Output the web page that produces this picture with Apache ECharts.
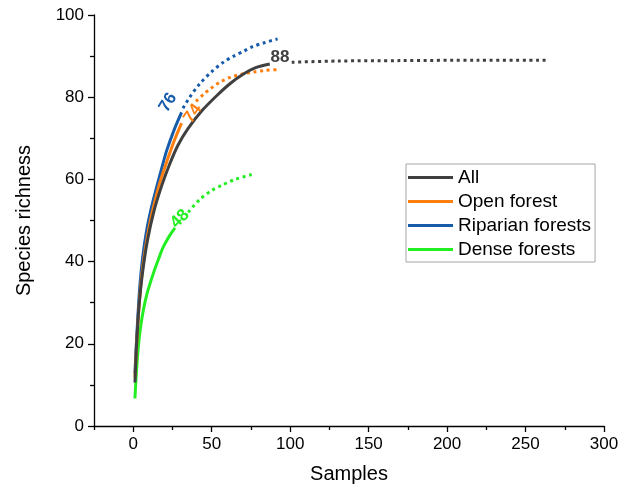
<!DOCTYPE html>
<html>
<head>
<meta charset="utf-8">
<script src="https://cdn.jsdelivr.net/npm/echarts@6/dist/echarts.min.js"></script>
<style>
html,body{margin:0;padding:0;background:#fff;}
#chart{width:626px;height:493px;}
</style>
</head>
<body>
<div id="chart"></div>
<script>
// ---- data ----
const allSolid = [[1.1,10.6],[2,19],[3,25.5],[4,30.5],[6,37.5],[9,45],[13,52],[18,58.3],[23,63.5],[28.5,68.3],[35,72.4],[44,76.8],[53,80.3],[62,83.4],[70,85.6],[78,87.2],[87,88.1]];
const allDotted = [[101,88.5],[130,88.8],[170,88.9],[220,89],[263,89]];
const openSolid = [[1.1,11.9],[2,18.5],[3,25],[4.3,32],[6,38.5],[8.5,45],[11.5,51],[15,56.5],[18,60.5],[22,65],[26,69.3],[30.8,73.7]];
const openDotted = [[40,79],[45,80.8],[49,82],[55,83.6],[61.6,84.8],[69,85.6],[76.5,86.1],[84,86.5],[91.4,86.7]];
const ripSolid = [[1.1,12.8],[2,20],[3,27],[4.3,34.5],[6,41],[8.5,47.5],[11.5,53],[14.9,58.1],[18,62.5],[21.3,67],[26,72],[30.8,76.3]];
const ripDotted = [[31.7,77.3],[36,80],[42.5,83.3],[50,86.2],[57.4,88.5],[64,90],[70,91.1],[76,92.3],[84,93.3],[92,94.2]];
const denseSolid = [[1.1,6.7],[2,13],[3.2,19],[4.5,23.5],[6.4,28.1],[9,32.5],[12.7,37],[16,40.5],[19.1,43.5],[23,46.2],[26.6,48.2]];
const denseDotted = [[35,52],[42.6,55.2],[50,57.3],[57.2,58.7],[65,60],[75.5,61.2]];

const seriesNames = ['All','Open forest','Riparian forests','Dense forests'];
const seriesColors = ['#404040','#ff7f0e','#165cab','#22ee22'];
const solidData = [allSolid, openSolid, ripSolid, denseSolid];
const dottedData = [allDotted, openDotted, ripDotted, denseDotted];

// curve end labels: [x, y, text, rotation(deg)]
const endLabels = [
  [93.5, 89.6, '88', 0],
  [38, 76, '74', 55],
  [22.1, 78.7, '76', 58],
  [29.8, 50.4, '48', 45]
];

const xMajorTicks = [0,50,100,150,200,250,300];
const xMinorTicks = [-25,25,75,125,175,225,275];

const FONT = '"Liberation Sans", Arial, sans-serif';

const chart = echarts.init(document.getElementById('chart'), null, {renderer:'canvas'});

const series = [];
// dotted first so solid lies on top
for (let i = 0; i < 4; i++) {
  series.push({
    name: seriesNames[i], type:'line', data: dottedData[i], showSymbol:false, symbol:'none',
    smooth: 0.3, silent:true,
    lineStyle:{color: seriesColors[i], width:3, type:[3,3.6]},
    itemStyle:{color: seriesColors[i]}, z: 2
  });
}
for (let i = 3; i >= 0; i--) {
  series.push({
    name: seriesNames[i], type:'line', data: solidData[i], showSymbol:false, symbol:'none',
    smooth: 0.3, silent:true,
    lineStyle:{color: seriesColors[i], width:3},
    itemStyle:{color: seriesColors[i]}, z: 3
  });
}

chart.setOption({
  animation:false,
  backgroundColor:'#fff',
  textStyle:{fontFamily: FONT},
  grid:{left:94, right:22, top:15, bottom:67, containLabel:false},
  legend:{
    data: seriesNames.map((n,i)=>({name:n, itemStyle:{color:seriesColors[i]}})),
    orient:'vertical', left:406, top:164,
    icon:'rect', itemWidth:45, itemHeight:3, itemGap:5,
    padding:[4,4,3,2], borderColor:'#a6a6a6', borderWidth:1,
    textStyle:{fontSize:19, color:'#000', fontFamily:FONT},
    selectedMode:false
  },
  xAxis:[{
    type:'value', min:-25, max:300, position:'bottom',
    name:'Samples', nameLocation:'middle', nameGap:38,
    nameTextStyle:{fontSize:20, color:'#000', fontFamily:FONT},
    axisLine:{show:true, onZero:false, lineStyle:{color:'#000', width:1.3}},
    axisTick:{show:true, length:6, customValues:xMajorTicks, lineStyle:{color:'#000', width:1.3}},
    axisLabel:{show:true, customValues:xMajorTicks, margin:10, fontSize:17, color:'#000', fontFamily:FONT},
    splitLine:{show:false}
  },{
    type:'value', min:-25, max:300, position:'bottom',
    axisLine:{show:false},
    axisTick:{show:true, length:4, customValues:xMinorTicks, lineStyle:{color:'#000', width:1.3}},
    axisLabel:{show:false},
    splitLine:{show:false}
  }],
  yAxis:{
    type:'value', min:0, max:100, interval:20,
    name:'Species richness', nameLocation:'middle', nameGap:60,
    nameTextStyle:{fontSize:20, color:'#000', fontFamily:FONT},
    axisLine:{show:true, onZero:false, lineStyle:{color:'#000', width:1.3}},
    axisTick:{show:true, length:6, lineStyle:{color:'#000', width:1.3}},
    minorTick:{show:true, splitNumber:2, length:4, lineStyle:{color:'#000', width:1.3}},
    axisLabel:{margin:10, fontSize:17, color:'#000', fontFamily:FONT},
    splitLine:{show:false}
  },
  series: series
});

// end labels placed via the chart's own coordinate conversion
const graphics = endLabels.map((l, idx) => {
  const p = chart.convertToPixel({gridIndex:0}, [l[0], l[1]]);
  return {
    type:'text', x:p[0], y:p[1], rotation: l[3]*Math.PI/180, z:10,
    style:{text:l[2], fill: seriesColors[idx], font:'bold 17px ' + FONT, align:'center', verticalAlign:'middle'}
  };
});
chart.setOption({graphic: graphics});
</script>
</body>
</html>
